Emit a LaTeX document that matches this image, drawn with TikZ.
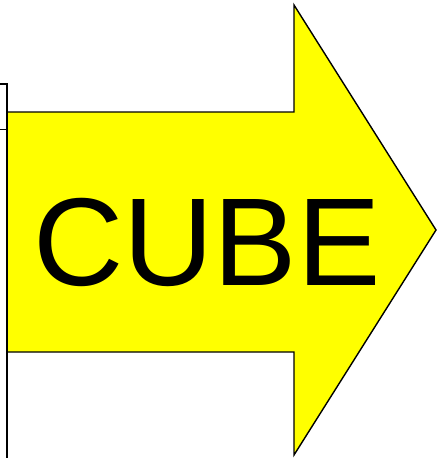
\documentclass[tikz,border=0pt]{standalone}
\usepackage{fontspec}
\setmainfont{Liberation Sans}
\definecolor{arrowfill}{RGB}{255,255,0}
\begin{document}
\begin{tikzpicture}[x=1pt, y=-1pt,
  edge line/.style={draw=black, line width=1.4pt, line join=miter},
  big word/.style={font=\fontsize{125}{130}\selectfont, inner sep=0pt},
]
  \useasboundingbox (0,0) rectangle (438,458);
  % yellow arrow
  \filldraw[edge line, fill=arrowfill] (7,112) -- (294,112) -- (294,5) -- (436,230)
    -- (294,455) -- (294,352) -- (7,352);
  % frame cut off at the left
  \draw[edge line] (0,84) -- (7,84) -- (7,462);
  \draw[edge line, line width=1pt] (0,129) -- (7,129);
  \node[big word, anchor=base] (cube) at (207,285) {CUBE};
\end{tikzpicture}
\end{document}
